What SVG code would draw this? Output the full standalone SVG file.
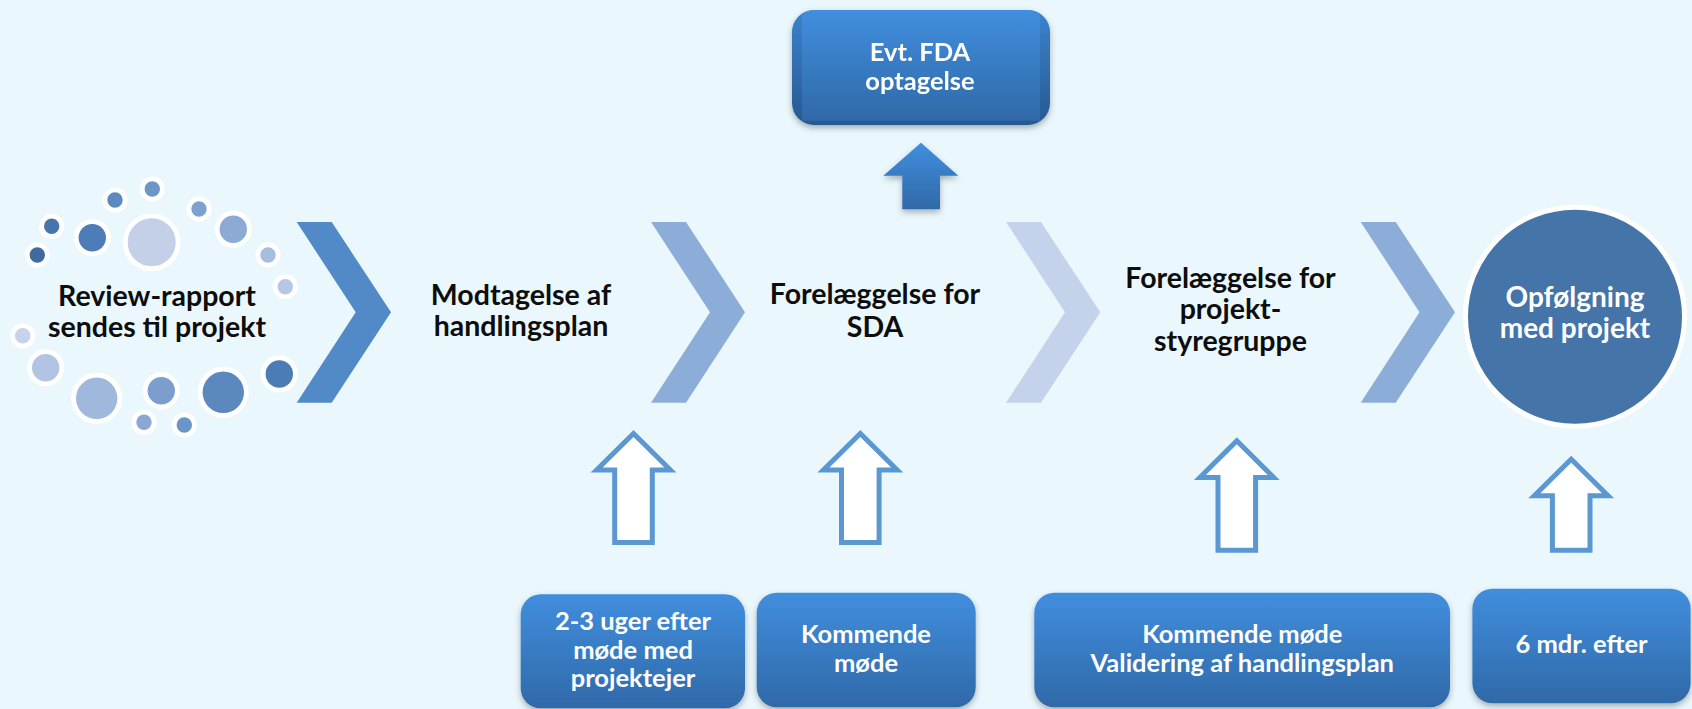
<svg xmlns="http://www.w3.org/2000/svg" width="1692" height="709" viewBox="0 0 1692 709">
<defs>
<style>
.t{font-family:Lato,"Open Sans","Liberation Sans",sans-serif;font-weight:bold;text-anchor:middle}
.blk{fill:#0d0d0d;font-size:28.5px}
.wht{fill:#ffffff;font-size:25.5px}
.big{font-size:28px}
.dot{stroke:#ffffff;stroke-width:4.8}
.out{fill:#ffffff;stroke:#5b97d1;stroke-width:5;stroke-linejoin:miter}
</style>
<linearGradient id="gb" x1="0" y1="0" x2="0" y2="1">
<stop offset="0" stop-color="#418ede"/>
<stop offset="1" stop-color="#2f69a8"/>
</linearGradient>
<linearGradient id="gbd" x1="0" y1="0" x2="0" y2="1">
<stop offset="0" stop-color="#3a83cf"/>
<stop offset="1" stop-color="#28598f"/>
</linearGradient>
<filter id="sh" x="-10%" y="-10%" width="120%" height="130%">
<feDropShadow dx="0" dy="3" stdDeviation="3" flood-color="#000" flood-opacity="0.3"/>
</filter>
<clipPath id="topclip"><rect x="792" y="10" width="258" height="115" rx="22"/></clipPath>
</defs>
<rect width="1692" height="709" fill="#eaf8fe"/>

<g id="dots">
<circle class="dot" cx="152.3" cy="189" r="10.1" fill="#6d96c8"/>
<circle class="dot" cx="115" cy="200" r="10.1" fill="#5b89c0"/>
<circle class="dot" cx="199" cy="209" r="10.1" fill="#7ea2d0"/>
<circle class="dot" cx="51.7" cy="226.3" r="10.1" fill="#4675ad"/>
<circle class="dot" cx="92.3" cy="237.7" r="16.1" fill="#4d7db8"/>
<circle class="dot" cx="151.7" cy="242.3" r="26.4" fill="#c3d0e8"/>
<circle class="dot" cx="233.3" cy="229.3" r="16.1" fill="#8daad4"/>
<circle class="dot" cx="37.3" cy="255" r="10.1" fill="#3f6b9d"/>
<circle class="dot" cx="268" cy="255" r="10.1" fill="#a6bde0"/>
<circle class="dot" cx="285.3" cy="286.7" r="10.1" fill="#b6c7e6"/>
<circle class="dot" cx="22.7" cy="335.7" r="10.1" fill="#c6d3ec"/>
<circle class="dot" cx="45.7" cy="367.7" r="16.1" fill="#b1c4e3"/>
<circle class="dot" cx="96.7" cy="398.3" r="23.1" fill="#a0b8dc"/>
<circle class="dot" cx="161.3" cy="390.7" r="16.1" fill="#7c9ece"/>
<circle class="dot" cx="223.3" cy="392.3" r="23.1" fill="#5b89bf"/>
<circle class="dot" cx="279.3" cy="374" r="16.1" fill="#4b7cb6"/>
<circle class="dot" cx="144" cy="422.3" r="10.1" fill="#8ba8d4"/>
<circle class="dot" cx="184.3" cy="425" r="10.1" fill="#6a95c8"/>
</g>

<g id="n-review">
<text class="t blk" x="157" y="305.7">Review-rapport</text>
<text class="t blk" x="157" y="337">sendes til projekt</text>
</g>

<g id="connectors">
<path d="M296.7,222 L331.7,222 L391,312.3 L331.7,402.7 L296.7,402.7 L355.7,312.3 Z" fill="#518ac7"/>
<path d="M651,222 L686,222 L745,312.3 L686,402.7 L651,402.7 L710,312.3 Z" fill="#8badd7"/>
<path d="M1006,222 L1041,222 L1100.3,312.3 L1041,402.7 L1006,402.7 L1065,312.3 Z" fill="#c4d3eb"/>
<path d="M1360.7,222 L1395.7,222 L1455,312.3 L1395.7,402.7 L1360.7,402.7 L1419.5,312.3 Z" fill="#8badd7"/>
<path d="M921,142.7 L958.3,175.7 L940,175.7 L940,209.3 L902.3,209.3 L902.3,175.7 L883.3,175.7 Z" fill="url(#gb)" filter="url(#sh)"/>
<path class="out" d="M633.5,433.5 L670.4,470 L652.3,470 L652.3,542.5 L614.7,542.5 L614.7,470 L596.6,470 Z"/>
<path class="out" d="M860.3,433.5 L897.2,470 L879.1,470 L879.1,542.5 L841.5,542.5 L841.5,470 L823.4,470 Z"/>
<path class="out" d="M1236.8,440.8 L1273.7,477.5 L1255.6,477.5 L1255.6,550.2 L1218,550.2 L1218,477.5 L1199.9,477.5 Z"/>
<path class="out" d="M1571.2,459.2 L1608.1,495.8 L1590,495.8 L1590,550.2 L1552.4,550.2 L1552.4,495.8 L1534.3,495.8 Z"/>
</g>

<g id="n-modtagelse">
<text class="t blk" x="521" y="305">Modtagelse af</text>
<text class="t blk" x="521" y="336">handlingsplan</text>
</g>

<g id="n-sda">
<text class="t blk" x="875" y="304.3">Forelæggelse for</text>
<text class="t blk" x="875" y="336.7">SDA</text>
</g>

<g id="n-styregruppe">
<text class="t blk" x="1230.5" y="288">Forelæggelse for</text>
<text class="t blk" x="1230.5" y="319.3">projekt-</text>
<text class="t blk" x="1230.5" y="350.5">styregruppe</text>
</g>

<g id="n-opfoelgning">
<circle cx="1575" cy="316.7" r="109.5" fill="#4474a8" stroke="#ffffff" stroke-width="5"/>
<text class="t wht big" x="1575" y="307">Opfølgning</text>
<text class="t wht big" x="1575" y="338">med projekt</text>
</g>

<g id="n-fda" filter="url(#sh)">
<g clip-path="url(#topclip)">
<rect x="792" y="10" width="258" height="115" fill="url(#gbd)"/>
<rect x="802" y="10" width="238" height="110.7" fill="url(#gb)"/>
</g>
<text class="t wht" x="920" y="61">Evt. FDA</text>
<text class="t wht" x="920" y="90">optagelse</text>
</g>

<g id="n-b1">
<rect x="520.7" y="594.3" width="224.3" height="114" rx="20" fill="url(#gb)" filter="url(#sh)"/>
<text class="t wht" x="633" y="630">2-3 uger efter</text>
<text class="t wht" x="633" y="659.3">møde med</text>
<text class="t wht" x="633" y="687.3">projektejer</text>
</g>

<g id="n-b2">
<rect x="756.7" y="592.7" width="219" height="114.6" rx="20" fill="url(#gb)" filter="url(#sh)"/>
<text class="t wht" x="866" y="643.3">Kommende</text>
<text class="t wht" x="866" y="671.7">møde</text>
</g>

<g id="n-b3">
<rect x="1034.3" y="592.7" width="415.7" height="114.6" rx="20" fill="url(#gb)" filter="url(#sh)"/>
<text class="t wht" x="1242.3" y="643.3">Kommende møde</text>
<text class="t wht" x="1242.3" y="671.7">Validering af handlingsplan</text>
</g>

<g id="n-b4">
<rect x="1472.4" y="588.7" width="218.2" height="114.6" rx="20" fill="url(#gb)" filter="url(#sh)"/>
<text class="t wht" x="1581.5" y="653.3">6 mdr. efter</text>
</g>
</svg>
